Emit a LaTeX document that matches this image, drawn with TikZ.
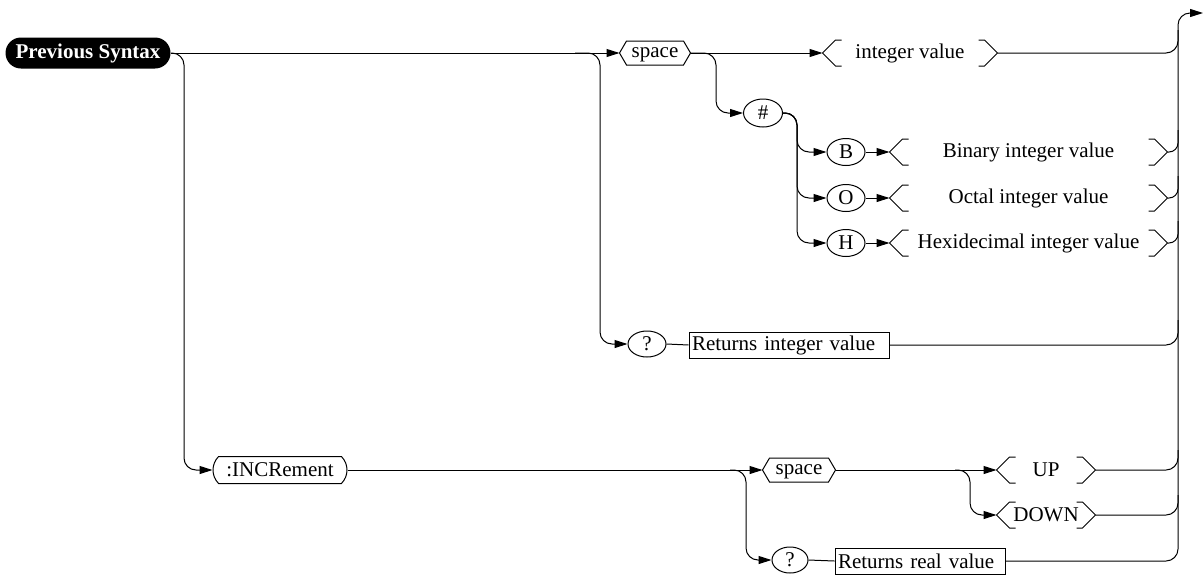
\documentclass[tikz,border=0pt]{standalone}
\usepackage{fontspec}
\setmainfont{Liberation Serif}
\usetikzlibrary{shapes.geometric,shapes.misc,arrows.meta}
\begin{document}
\begin{tikzpicture}[x=1pt,y=-1pt,
  font=\fontsize{21}{24}\selectfont,
  line width=1pt,
  arr/.style={-{Triangle[length=13pt,width=8pt]}},
  rc/.style={rounded corners=12pt},
  rcs/.style={rounded corners=9pt},
  ell/.style={ellipse,draw,inner sep=0pt,minimum width=38pt,minimum height=27pt},
  hexb/.style={inner sep=0pt,minimum width=70pt,minimum height=23pt,text depth=0pt},
  brk/.style={inner sep=0pt,minimum height=25pt},
  rbox/.style={rectangle,draw,inner xsep=3pt,inner ysep=0pt,minimum height=26pt,align=left},
  term/.style={rounded rectangle,draw,inner sep=0pt,minimum height=27pt},
]
\path[use as bounding box] (0,0) rectangle (1204,579);

% nodes
\node[rounded rectangle,fill=black,text=white,font=\fontsize{21}{24}\selectfont\bfseries,
      minimum width=165pt,minimum height=31pt,inner sep=0pt] (ps) at (88,53) {Previous Syntax};
\node[hexb] (sp1) at (655,53) {space};
\node[brk,minimum width=174pt] (iv) at (910,53) {integer value};
\node[ell,minimum width=39pt,minimum height=28pt] (hash) at (763,113) {\#};
\node[ell] (b) at (846,152) {B};
\node[ell] (o) at (846,198) {O};
\node[ell] (h) at (846,243) {H};
\node[brk,minimum width=277pt] (bb) at (1028.5,152) {Binary integer value};
\node[brk,minimum width=277pt] (ob) at (1028.5,198) {Octal integer value};
\node[brk,minimum width=277pt] (hb) at (1028.5,243) {Hexidecimal integer value};
\node[ell,minimum height=26pt] (q1) at (647,344) {?};
\node[rbox,text width=194pt] (r1) at (789,345) {Returns integer value};
\node[term,rounded rectangle arc length=90,minimum width=134pt] (inc) at (280,470) {:INCRement\hspace{10pt}};
\node[hexb,minimum width=72pt] (sp2) at (799,470) {space};
\node[brk,minimum width=98pt] (up) at (1046,470) {UP};
\node[brk,minimum width=98pt] (dn) at (1046,515) {DOWN};
\node[ell,minimum width=36pt,minimum height=26pt] (q2) at (790,560) {?};
\node[rbox,text width=164pt] (r2) at (920,561) {Returns real value};
\coordinate (exit) at (1203,13);

% hexagon outlines
\foreach \n in {sp1,sp2}
  \draw (\n.west) -- ([xshift=7pt]\n.north west) -- ([xshift=-7pt]\n.north east) -- (\n.east)
        -- ([xshift=-7pt]\n.south east) -- ([xshift=7pt]\n.south west) -- cycle;

% angle brackets
\foreach \n in {iv,bb,ob,hb,up,dn} {
  \draw ([xshift=19pt]\n.north west) -- ([xshift=13pt]\n.north west) -- (\n.west)
        -- ([xshift=13pt]\n.south west) -- ([xshift=19pt]\n.south west);
  \draw ([xshift=-19pt]\n.north east) -- ([xshift=-13pt]\n.north east) -- (\n.east)
        -- ([xshift=-13pt]\n.south east) -- ([xshift=-19pt]\n.south east);
}

% connectors, top part
\draw[arr] (ps.east) -- (sp1.west);
\draw[rc,arr] (ps.east) -| (184,470) -- (inc.west);
\draw[rc,arr] (575,53) -| (600,344) -- (q1.west);
\draw (q1.east) -- (r1.west);
\draw[rc] (r1.east) -| (1178,320);
\draw[arr] (sp1.east) -- (iv.west);
\draw[rc,arr] (sp1.east) -| (716,113) -- (hash.west);
\draw[rc] (iv.east) -| (1178,30);
\draw[rc,arr] (hash.east) -- (797,113) |- (b.west);
\draw[rc,arr] (hash.east) -- (797,113) |- (o.west);
\draw[rc,arr] (hash.east) -- (797,113) |- (h.west);
\draw[arr] (b.east) -- (bb.west);
\draw[arr] (o.east) -- (ob.west);
\draw[arr] (h.east) -- (hb.west);
\draw[rcs] (bb.east) -| (1178,130);
\draw[rcs] (ob.east) -| (1178,176);
\draw[rcs] (hb.east) -| (1178,221);

% connectors, lower part
\draw[arr] (inc.east) -- (sp2.west);
\draw[rc,arr] (730,470) -| (746,560) -- (q2.west);
\draw (q2.east) -- (r2.west);
\draw[arr] (sp2.east) -- (up.west);
\draw[rc,arr] (955,470) -| (970,515) -- (dn.west);
\draw[rc] (up.east) -| (1178,450);
\draw[rc] (dn.east) -| (1178,495);
\draw[rc,arr] (r2.east) -| (1178,13) -- (exit);
\end{tikzpicture}
\end{document}
